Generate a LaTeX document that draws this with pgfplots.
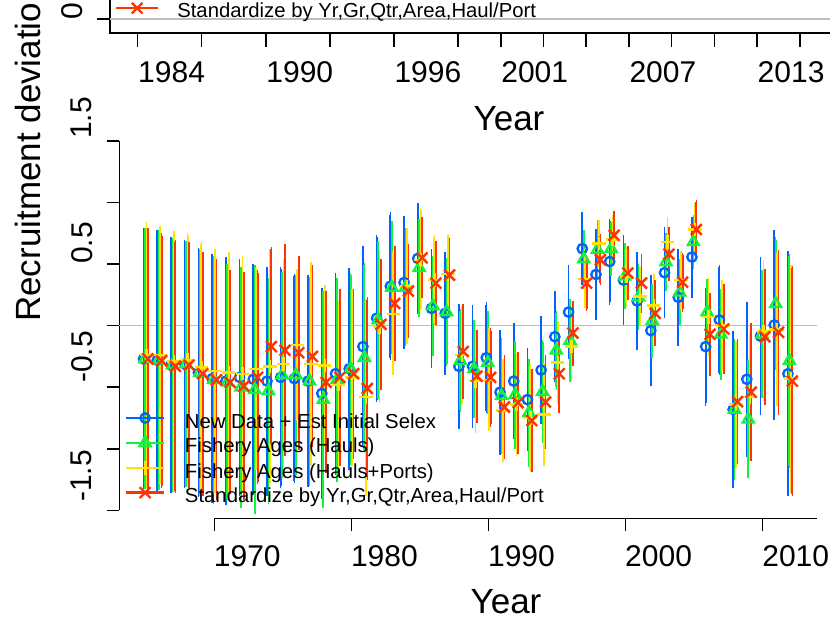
\documentclass[border=0pt]{standalone}
\usepackage{pgfplots}
\pgfplotsset{compat=1.18}
\usepackage{pgfplotstable}
\usepackage{fontspec}
\setmainfont{Liberation Sans}
\definecolor{cB}{HTML}{0063FF}
\definecolor{cG}{HTML}{13F23F}
\definecolor{cY}{HTML}{FEE201}
\definecolor{cR}{HTML}{FF3300}
\definecolor{zl}{gray}{0.74}
\newcommand{\fs}[1]{\fontsize{#1bp}{#1bp}\selectfont}

\pgfplotstableread{
yr B hB G hG Y hY R hR
1965 -0.27 1.04 -0.27 1.04 -0.24 1.06 -0.27 1.04
1966 -0.28 1.04 -0.28 1.035 -0.24 1.03 -0.285 1.015
1967 -0.32 1.02 -0.32 1.01 -0.29 1.04 -0.33 1.01
1968 -0.31 0.99 -0.31 0.98 -0.28 1.01 -0.32 0.98
1969 -0.38 0.99 -0.38 0.98 -0.34 1.00 -0.39 0.97
1970 -0.43 0.99 -0.44 0.99 -0.37 0.97 -0.44 0.96
1971 -0.45 0.99 -0.46 0.94 -0.38 0.96 -0.46 0.89
1972 -0.42 0.94 -0.50 0.96 -0.39 0.94 -0.49 0.91
1973 -0.435 0.92 -0.52 0.99 -0.35 0.80 -0.42 0.85
1974 -0.45 0.91 -0.53 0.90 -0.33 0.93 -0.17 0.79
1975 -0.42 0.88 -0.40 0.82 -0.31 0.83 -0.20 0.84
1976 -0.43 0.83 -0.40 0.79 -0.155 0.60 -0.22 0.77
1977 -0.45 0.84 -0.45 0.83 -0.31 0.81 -0.25 0.72
1978 -0.55 0.835 -0.60 0.86 -0.325 0.64 -0.46 0.72
1979 -0.39 0.80 -0.44 0.81 -0.48 0.66 -0.42 0.70
1980 -0.35 0.80 -0.35 0.76 -0.42 0.70 -0.39 0.67
1981 -0.17 0.80 -0.26 0.75 -0.58 0.78 -0.51 0.72
1982 0.06 0.66 0.046 0.62 -0.01 0.60 0.01 0.51
1983 0.32 0.58 0.31 0.52 0.095 0.48 0.18 0.45
1984 0.35 0.52 0.31 0.46 0.32 0.45 0.28 0.36
1985 0.545 0.43 0.47 0.38 0.535 0.40 0.55 0.31
1986 0.14 0.465 0.16 0.39 0.37 0.35 0.345 0.32
1987 0.10 0.48 0.11 0.42 0.42 0.30 0.41 0.28
1988 -0.33 0.49 -0.285 0.40 -0.24 0.38 -0.21 0.37
1989 -0.33 0.48 -0.35 0.38 -0.45 0.40 -0.41 0.36
1990 -0.26 0.43 -0.30 0.40 -0.44 0.40 -0.42 0.38
1991 -0.54 0.49 -0.57 0.45 -0.69 0.40 -0.66 0.40
1992 -0.45 0.455 -0.56 0.42 -0.64 0.40 -0.625 0.395
1993 -0.60 0.40 -0.706 0.42 -0.75 0.42 -0.77 0.40
1994 -0.36 0.42 -0.535 0.40 -0.72 0.40 -0.62 0.36
1995 -0.09 0.35 -0.20 0.30 -0.30 0.32 -0.39 0.30
1996 0.11 0.36 -0.12 0.32 -0.17 0.26 -0.06 0.245
1997 0.625 0.28 0.54 0.22 0.38 0.22 0.345 0.21
1998 0.415 0.35 0.617 0.22 0.665 0.17 0.535 0.19
1999 0.52 0.33 0.625 0.20 0.70 0.18 0.733 0.18
2000 0.37 0.35 0.40 0.25 0.40 0.22 0.427 0.20
2001 0.20 0.38 0.23 0.25 0.236 0.22 0.345 0.22
2002 -0.04 0.43 0.04 0.28 0.163 0.24 0.10 0.25
2003 0.43 0.35 0.516 0.22 0.68 0.18 0.58 0.20
2004 0.23 0.375 0.27 0.25 0.37 0.22 0.353 0.22
2005 0.557 0.31 0.68 0.20 0.78 0.20 0.78 0.22
2006 -0.17 0.46 0.11 0.25 0.07 0.30 -0.07 0.32
2007 0.046 0.43 -0.07 0.35 0.0 0.35 -0.027 0.35
2008 -0.68 0.62 -0.68 0.55 -0.64 0.50 -0.617 0.49
2009 -0.435 0.61 -0.76 0.46 -0.58 0.50 -0.54 0.54
2010 -0.085 0.625 -0.07 0.50 -0.046 0.55 -0.09 0.535
2011 0.005 0.75 0.177 0.52 -0.03 0.60 -0.054 0.65
2012 -0.39 0.975 -0.285 0.85 -0.43 0.90 -0.45 0.915
}\recdev

\pgfplotsset{
  eb/.style={draw=none, mark=none, forget plot,
    error bars/.cd, y dir=both, y explicit,
    error bar style={draw=#1, line width=1.8bp, solid},
    error mark options={draw=#1, line width=1.6bp, mark size=2.3bp, solid}},
}

\begin{document}
\begin{tikzpicture}
\path[use as bounding box] (0,0) rectangle (830bp,620bp);
\clip (0,0) rectangle (830bp,620bp);

% ---------- top strip (remnant of upper panel) ----------
\begin{axis}[
  scale only axis, width=796.6bp, height=157.3bp,
  at={(110bp,586.7bp)}, anchor=south west,
  xmin=1982.708, xmax=2020, ymin=-0.1, ymax=1, enlargelimits=false,
  axis line style={line width=1.6bp},
  tick align=outside, major tick length=13.4bp,
  tick style={black, line width=1.6bp},
  xtick pos=bottom, ytick pos=left,
  xtick={1984,1987,1990,1993,1996,1999,2001,2003,2005,2007,2009,2011,2013,2015},
  xticklabels={1984,,1990,,1996,,2001,,,2007,,,2013,},
  xticklabel style={font=\fs{30}, inner sep=0pt, anchor=north, xshift=34bp, yshift=-14.5bp},
  ytick={0}, yticklabels={},
  legend image code/.code={\draw[mark repeat=2, mark phase=2, #1] plot coordinates {(0bp,2.5bp) (21bp,2.5bp) (42bp,2.5bp)};},
  legend style={draw=none, fill=none, at={(0.00628,0.2009)}, anchor=north west,
    inner sep=0pt, outer sep=0pt, column sep=18bp,
    nodes={inner sep=0pt, text height=16bp, text depth=2bp, font=\fs{20.3}}},
  legend cell align=left,
]
\addplot[zl, line width=1.5bp, forget plot] coordinates {(1982.708,0) (2020,0)};
\addlegendimage{cR, line width=2.3bp, mark=x, mark size=7.5bp}
\addlegendentry{Standardize by Yr,Gr,Qtr,Area,Haul/Port}
\end{axis}

% ---------- main panel: data ----------
\begin{axis}[
  scale only axis, width=697.4bp, height=369.7bp,
  at={(119.3bp,109.5bp)}, anchor=south west,
  xmin=1963.07, xmax=2013.94, ymin=-1.5, ymax=1.5, enlargelimits=false,
  clip=false,
  axis x line=none, axis y line*=left,
  axis line style={line width=1.6bp},
  ytick={-1.5,-1,-0.5,0,0.5,1,1.5}, yticklabels={},
  tick align=outside, major tick length=12.3bp,
  ytick style={black, line width=1.6bp},
  legend image code/.code={\draw[mark repeat=2, mark phase=2, #1] plot coordinates {(0bp,3bp) (19bp,3bp) (38bp,3bp)};},
  legend style={draw=none, fill=none, at={(0.00817,0.2664)}, anchor=north west,
    inner sep=0pt, outer sep=0pt, column sep=19.7bp, row sep=6.5bp,
    nodes={inner sep=0pt, text height=16bp, text depth=2bp, font=\fs{20.3}}},
  legend cell align=left,
]
\addplot[zl, line width=1.5bp, forget plot] coordinates {(1963.07,0) (2013.94,0)};
% confidence intervals
\addplot[eb=cB] table[x expr=\thisrow{yr}-0.16, y=B, y error=hB] {\recdev};
\addplot[eb=cG] table[x expr=\thisrow{yr}-0.053, y=G, y error=hG] {\recdev};
\addplot[eb=cY] table[x expr=\thisrow{yr}+0.053, y=Y, y error=hY] {\recdev};
\addplot[eb=cR] table[x expr=\thisrow{yr}+0.16, y=R, y error=hR] {\recdev};
% estimates
\addplot[only marks, forget plot, cB, mark=o, mark size=4.7bp, line width=2.3bp] table[x expr=\thisrow{yr}-0.16, y=B] {\recdev};
\addplot[only marks, forget plot, cG, mark=triangle, mark size=6.4bp, line width=2.3bp] table[x expr=\thisrow{yr}-0.053, y=G] {\recdev};
\addplot[only marks, forget plot, cY, mark=+, mark size=6.7bp, line width=2.4bp] table[x expr=\thisrow{yr}+0.053, y=Y] {\recdev};
\addplot[only marks, forget plot, cR, mark=x, mark size=7.7bp, line width=2.4bp] table[x expr=\thisrow{yr}+0.16, y=R] {\recdev};
\addlegendimage{cB, line width=2.3bp, mark=o, mark size=4.7bp}
\addlegendentry{New Data + Est Initial Selex}
\addlegendimage{cG, line width=2.3bp, mark=triangle, mark size=6.4bp}
\addlegendentry{Fishery Ages (Hauls)}
\addlegendimage{cY, line width=2.3bp, mark=+, mark size=6.7bp}
\addlegendentry{Fishery Ages (Hauls+Ports)}
\addlegendimage{cR, line width=2.3bp, mark=x, mark size=7.7bp}
\addlegendentry{Standardize by Yr,Gr,Qtr,Area,Haul/Port}
\end{axis}

% ---------- main panel: x axis ----------
\begin{axis}[
  scale only axis, width=602.4bp, height=10bp,
  at={(214.3bp,101.3bp)}, anchor=south west,
  xmin=1970, xmax=2013.94, ymin=0, ymax=1, enlargelimits=false,
  axis x line*=bottom, axis y line=none,
  axis line style={line width=1.6bp},
  xtick={1970,1980,1990,2000,2010},
  xticklabels={1970,1980,1990,2000,2010},
  tick align=outside, major tick length=12.7bp,
  xtick style={black, line width=1.6bp},
  xticklabel style={font=\fs{30}, inner sep=0pt, anchor=north, xshift=33bp, yshift=-13.6bp},
]
\end{axis}

% ---------- texts ----------
\node[rotate=90, font=\fs{30}, inner sep=0pt] at (71.7bp,609.2bp) {0};
\node[rotate=90, font=\fs{30}, inner sep=0pt] at (81.7bp,502bp) {1.5};
\node[rotate=90, font=\fs{30}, inner sep=0pt] at (81.7bp,377bp) {0.5};
\node[rotate=90, font=\fs{30}, inner sep=0pt] at (81.7bp,263bp) {-0.5};
\node[rotate=90, font=\fs{30}, inner sep=0pt] at (81.7bp,144bp) {-1.5};
\node[rotate=90, anchor=west, font=\fs{35}, inner sep=0pt] at (28.3bp,298bp) {Recruitment deviation};
\node[font=\fs{35}, inner sep=0pt] at (509bp,501bp) {Year};
\node[font=\fs{35}, inner sep=0pt] at (506bp,18.5bp) {Year};
\end{tikzpicture}
\end{document}
